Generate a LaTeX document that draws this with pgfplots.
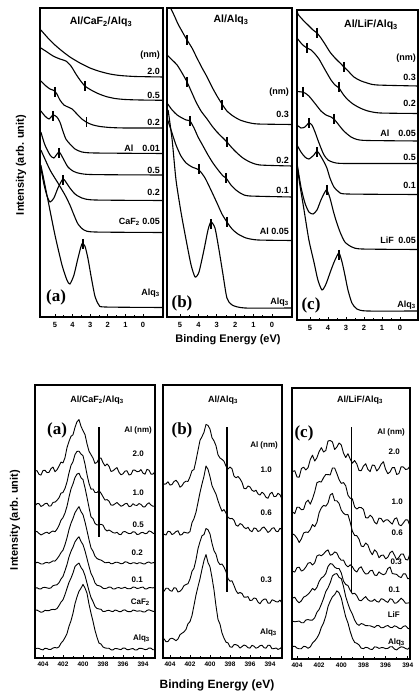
\documentclass[border=0pt]{standalone}
\usepackage{pgfplots}
\pgfplotsset{compat=1.18}
\usepackage{pgfplotstable}
\usepackage{fontspec}
\setmainfont{Liberation Sans}
\newfontfamily\tms{Liberation Serif}

\pgfplotstableread{
x A1 A2 A3 A4 A5 A6 A7
404.8 186.9 152.0 126.2 94.4 69.6 47.9 9.0
404.6 187.4 154.4 126.6 95.8 70.3 47.9 9.8
404.4 183.6 154.4 124.6 95.1 69.1 46.8 9.5
404.2 182.9 151.5 123.1 94.0 69.1 45.7 8.6
404.0 187.5 152.6 124.0 94.0 70.5 46.2 8.1
403.8 187.7 154.3 125.2 95.2 70.6 47.7 9.8
403.6 185.4 154.8 125.8 95.6 70.1 47.3 9.4
403.4 185.6 151.9 124.4 94.9 69.6 47.3 8.5
403.2 189.4 152.1 126.0 95.9 70.1 48.3 8.7
403.0 190.9 155.6 127.0 97.1 72.3 48.6 10.0
402.8 186.3 155.9 126.2 96.9 72.9 48.4 10.5
402.6 188.2 157.7 128.8 99.1 73.2 49.4 10.0
402.4 191.8 160.2 132.5 101.9 75.3 52.4 11.1
402.2 195.9 164.9 137.8 105.4 79.0 55.9 14.8
402.0 195.1 165.5 140.4 107.9 81.6 58.2 17.0
401.8 200.3 169.6 145.0 113.3 87.3 63.5 20.4
401.6 210.3 176.0 151.7 120.2 93.4 69.6 24.4
401.4 216.6 185.1 160.9 128.4 101.1 75.6 31.7
401.2 221.7 192.6 169.1 134.8 106.7 79.9 37.2
401.0 223.2 196.3 174.1 139.6 110.9 85.0 44.8
400.8 230.6 203.5 180.5 145.3 116.2 91.4 54.3
400.6 236.3 206.6 183.9 148.6 119.1 93.5 61.1
400.4 238.4 206.8 184.8 151.4 121.2 94.9 66.8
400.2 231.7 204.0 180.3 146.4 116.5 90.5 69.8
400.0 227.3 202.3 178.4 143.3 113.3 87.8 73.6
399.8 223.5 193.9 170.3 136.0 107.1 82.4 69.9
399.6 214.3 183.5 160.6 127.4 99.5 74.9 64.8
399.4 206.8 174.6 150.6 118.4 91.7 67.2 53.9
399.2 203.4 168.9 141.1 110.1 84.5 60.5 44.8
399.0 199.9 169.0 139.4 106.8 80.7 56.5 36.7
398.8 194.5 165.5 134.6 101.8 75.1 51.6 27.7
398.6 195.6 165.5 133.0 99.5 72.7 49.6 20.7
398.4 199.7 167.4 133.2 98.5 72.3 49.0 14.9
398.2 200.0 164.8 133.7 97.9 71.5 48.7 14.0
398.0 195.4 161.3 132.9 96.7 69.7 46.5 11.0
397.8 192.1 157.9 128.8 95.2 69.4 46.6 10.1
397.6 194.1 158.4 127.0 95.4 69.9 47.4 9.7
397.4 191.8 156.9 128.0 95.8 71.0 47.7 9.8
397.2 186.5 153.0 126.8 94.2 70.7 46.8 8.2
397.0 187.2 152.8 125.4 94.4 69.0 46.4 8.1
396.8 189.0 154.2 124.9 95.6 69.1 47.9 9.5
396.6 190.4 155.5 125.7 95.8 70.2 47.5 9.4
396.4 185.7 153.6 123.7 95.2 70.4 46.4 8.8
396.2 183.2 151.7 123.4 94.2 69.6 46.3 8.4
396.0 184.2 152.6 126.1 94.6 70.0 47.8 9.9
395.8 186.9 154.2 126.5 96.2 70.8 48.1 9.8
395.6 187.2 154.6 125.3 95.9 69.5 46.7 8.4
395.4 183.0 151.4 124.4 94.7 69.2 46.3 8.4
395.2 183.6 151.8 124.6 94.3 69.5 46.3 9.1
395.0 187.8 154.3 126.3 95.3 70.9 47.9 9.5
394.8 187.8 152.8 125.9 95.1 70.7 47.5 8.0
394.6 186.3 152.6 123.5 94.2 69.5 46.7 8.1
394.4 186.6 154.4 123.8 95.3 69.8 47.1 9.6
394.2 188.4 153.6 125.3 95.1 70.6 47.0 9.7
394.0 184.8 151.2 125.6 94.2 70.9 46.1 9.2
393.8 183.8 151.1 124.3 94.1 69.1 46.0 8.4
393.6 188.7 153.8 124.7 95.5 69.2 47.6 8.6
393.4 187.8 155.2 127.1 96.0 70.4 48.2 10.0
393.2 183.9 153.0 126.4 94.8 70.3 47.4 9.8
393.0 183.9 151.7 124.8 95.2 70.1 46.7 8.2
392.8 186.3 152.0 124.1 95.9 70.6 46.5 8.3
}\tabBA

\pgfplotstableread{
x B1 B2 B3 B4
404.8 177.4 125.8 66.8 18.2
404.6 173.7 123.7 66.8 19.2
404.4 174.1 123.0 69.8 16.2
404.2 176.2 126.7 69.7 16.5
404.0 172.9 126.3 67.5 19.2
403.8 173.5 123.4 66.7 19.8
403.6 176.5 124.5 70.3 18.8
403.4 177.7 126.4 69.9 17.3
403.2 175.3 127.3 66.0 19.0
403.0 170.8 122.9 66.7 23.3
402.8 172.3 123.5 68.8 24.8
402.6 175.5 125.9 72.4 26.1
402.4 176.8 125.3 73.5 28.6
402.2 176.6 124.9 74.3 34.3
402.0 181.2 126.5 79.0 36.4
401.8 187.3 135.3 86.7 42.5
401.6 188.5 139.5 89.8 52.6
401.4 197.5 145.8 98.3 63.0
401.2 207.7 155.5 109.3 71.4
401.0 217.6 165.5 116.3 79.3
400.8 221.4 174.0 122.3 88.8
400.6 225.7 181.8 123.4 97.5
400.4 233.6 192.0 129.5 103.4
400.2 232.5 188.7 128.3 95.5
400.0 228.9 181.3 124.0 91.2
399.8 220.3 172.4 114.7 80.4
399.6 217.1 168.0 107.3 68.0
399.4 212.3 163.9 103.8 52.1
399.2 203.2 157.3 96.3 38.6
399.0 200.0 151.6 93.4 33.8
398.8 198.6 146.8 94.0 25.0
398.6 196.7 148.4 90.9 19.8
398.4 191.8 145.0 86.3 15.8
398.2 189.0 140.7 79.3 15.1
398.0 191.0 139.3 76.8 11.2
397.8 189.2 139.6 77.2 10.7
397.6 181.9 137.8 72.5 13.4
397.4 180.2 132.8 67.3 13.3
397.2 181.5 131.8 64.5 12.4
397.0 179.2 134.4 65.5 9.9
396.8 175.7 133.5 64.5 11.4
396.6 169.5 130.7 60.9 13.0
396.4 169.3 129.3 60.8 12.2
396.2 172.0 130.7 61.4 10.3
396.0 171.1 127.5 57.5 9.9
395.8 167.7 126.3 57.8 12.7
395.6 166.6 130.0 60.0 11.8
395.4 167.8 129.5 59.5 9.8
395.2 164.1 126.5 56.0 10.6
395.0 162.9 127.3 54.2 12.3
394.8 165.8 130.0 57.3 12.8
394.6 164.1 131.0 58.8 10.3
394.4 160.6 128.5 58.8 9.8
394.2 159.7 125.5 54.8 12.8
394.0 164.2 127.0 54.8 12.6
393.8 165.8 129.7 58.2 9.2
393.6 161.4 130.3 57.5 9.4
393.4 161.6 126.8 56.3 10.0
393.2 164.7 126.3 56.0 8.6
393.0 163.2 129.8 57.9 9.4
392.8 159.2 128.3 54.8 11.0
}\tabBB

\pgfplotstableread{
x C1 C2 C3 C4 C5 C6 C7
404.4 187.5 147.0 125.2 87.8 61.0 37.9 12.5
404.2 188.3 145.4 123.8 86.9 61.7 37.2 12.8
404.0 182.0 151.8 120.8 91.4 58.3 37.6 10.9
403.8 181.8 151.7 116.5 91.8 56.1 37.9 10.2
403.6 190.5 149.2 120.2 87.9 58.3 36.3 10.3
403.4 191.8 149.7 126.0 89.1 61.9 36.2 12.7
403.2 189.0 156.6 127.0 92.0 63.0 39.0 12.3
403.0 191.3 158.9 126.6 95.8 64.7 39.4 10.7
402.8 199.5 154.8 129.4 96.5 67.3 38.8 12.1
402.6 203.8 160.2 134.5 94.0 70.6 38.9 15.9
402.4 198.0 167.2 132.4 96.3 68.8 41.3 18.1
402.2 201.3 176.3 136.6 103.0 71.7 46.7 21.0
402.0 207.5 177.4 146.4 104.2 77.5 49.6 25.1
401.8 211.3 177.0 151.2 103.2 81.0 54.8 31.7
401.6 207.0 181.4 153.6 105.1 82.5 60.6 36.1
401.4 208.5 184.5 152.8 107.7 85.5 67.4 42.9
401.2 218.0 184.4 156.0 109.1 92.5 71.2 52.4
401.0 218.5 184.1 164.0 103.8 95.4 76.3 57.9
400.8 217.0 191.0 165.6 104.5 94.8 83.1 62.2
400.6 209.5 191.0 158.3 107.1 91.9 84.9 64.3
400.4 212.0 185.4 158.2 106.0 90.5 85.4 68.2
400.2 216.0 179.3 155.5 101.2 90.5 81.6 66.1
400.0 214.0 175.6 148.8 98.7 86.0 80.4 60.9
399.8 205.8 176.4 145.7 98.9 77.8 72.4 51.1
399.6 201.5 173.2 144.2 94.2 74.5 62.3 42.1
399.4 205.3 163.8 144.5 92.1 73.4 55.3 36.1
399.2 200.0 160.8 136.8 94.2 68.8 49.2 27.6
399.0 195.8 160.1 127.8 92.3 65.1 44.9 20.9
398.8 198.5 152.2 123.6 88.6 65.8 39.0 16.6
398.6 195.0 149.9 123.3 87.0 63.3 35.1 15.7
398.4 188.5 151.6 119.8 90.8 58.8 33.6 14.1
398.2 188.3 151.4 112.9 92.2 58.2 35.5 10.8
398.0 193.0 149.6 112.4 87.6 60.5 34.7 10.4
397.8 195.3 141.3 116.0 85.0 62.4 33.3 11.7
397.6 189.5 141.0 114.0 85.3 59.3 33.3 11.2
397.4 187.3 143.8 107.9 88.2 57.8 33.2 9.8
397.2 194.0 141.8 104.2 88.7 57.8 32.4 9.5
397.0 193.5 136.8 109.2 84.0 59.7 31.5 12.1
396.8 188.0 135.0 107.0 83.4 57.5 33.5 11.9
396.6 190.5 140.9 101.3 87.1 56.9 33.3 10.6
396.4 195.0 140.4 103.6 85.3 60.3 31.2 11.3
396.2 197.3 136.9 103.9 84.2 59.6 31.4 11.3
396.0 189.5 139.0 100.2 85.4 57.8 32.8 10.4
395.8 185.3 139.2 101.7 90.5 56.6 33.5 10.6
395.6 187.0 136.9 106.3 92.0 60.3 31.7 12.2
395.4 191.3 134.9 107.9 85.5 59.6 31.4 12.3
395.2 191.5 140.0 103.8 85.0 55.8 33.2 9.9
395.0 184.5 141.2 99.2 84.6 56.1 32.4 9.1
394.8 185.5 134.4 101.8 82.4 58.3 30.7 11.0
394.6 192.3 133.3 105.0 81.4 60.8 30.3 12.2
394.4 192.0 136.1 104.9 85.2 58.8 32.6 11.8
394.2 189.5 139.2 99.6 85.1 55.7 33.2 10.5
394.0 190.0 139.0 99.0 80.2 56.0 30.8 9.7
393.8 193.0 132.9 105.3 80.7 56.2 29.7 12.2
393.6 187.0 132.4 103.6 82.3 54.8 30.0 11.6
}\tabBC

\pgfplotsset{
  panel/.style={scale only axis, anchor=south west, x dir=reverse, ytick=\empty,
    axis line style={line width=1.2pt}, tick align=inside, xtick pos=left,
    major tick length=3pt, minor tick length=2pt,
    every tick/.style={line width=0.8pt, black},
    clip=true},
  toppanel/.style={panel, ymin=0, xtick={0,1,2,3,4,5}, xticklabels={0,1,2,3,4,5}, minor x tick num=1,
    xticklabel style={font=\bfseries\fontsize{7.5}{7.5}\selectfont, inner sep=1pt, yshift=-4pt}},
  botpanel/.style={panel, ymin=0, xtick={394,396,398,400,402,404}, xticklabels={394,396,398,400,402,404}, minor x tick num=1,
    xticklabel style={font=\bfseries\fontsize{6.5}{6.5}\selectfont, inner sep=1pt, yshift=-3pt}},
  curve/.style={black, line width=1.1pt, smooth, tension=0.4, no marks},
  noisy/.style={black, line width=0.9pt, no marks, line join=round},
  tk/.style={black, only marks, mark=|, mark size=5pt, mark options={line width=1.3pt}},
}
\tikzset{
  lab/.style={font=\bfseries\fontsize{9}{9}\selectfont, inner sep=0pt},
  slab/.style={font=\bfseries\fontsize{8}{8}\selectfont, inner sep=0pt},
  ttl/.style={font=\bfseries\fontsize{10.5}{10.5}\selectfont, inner sep=0pt},
  sttl/.style={font=\bfseries\fontsize{9}{9}\selectfont, inner sep=0pt},
  pl/.style={font=\tms\bfseries\fontsize{17}{17}\selectfont, inner sep=0pt},
}

\begin{document}
\begin{tikzpicture}
\useasboundingbox (0pt,0pt) rectangle (419pt,698pt);

% ---------------- top (a)
\begin{axis}[toppanel, at={(40pt,381pt)}, width=123pt, height=309pt, xmin=-1.14, xmax=5.85, ymax=309]
\addplot[curve] coordinates {(5.80,287) (5.40,279) (5.00,272) (4.60,266) (4.15,260) (3.58,254) (3.01,249) (2.44,245.5) (1.88,243) (1.31,241.5) (0.45,240.5) (-1.14,240)};
\addplot[curve] coordinates {(5.80,269) (5.45,265) (5.11,261) (4.72,258) (4.38,256) (4.09,251) (3.81,243) (3.58,237) (3.30,231) (2.95,227) (2.56,223.5) (2.10,220.5) (1.59,218.5) (1.02,217.5) (0.17,217) (-1.14,216.7)};
\addplot[curve] coordinates {(5.80,236) (5.51,231) (5.28,228) (5.06,226.5) (4.89,223) (4.72,217) (4.49,212) (4.26,210) (4.03,208) (3.75,203) (3.47,198) (3.18,194.5) (2.84,192) (2.44,190.5) (1.88,189.5) (1.02,189) (-1.14,189)};
\addplot[curve] coordinates {(5.80,206) (5.57,201) (5.34,198) (5.11,202) (4.89,200) (4.72,195) (4.55,186) (4.38,178) (4.15,173) (3.86,168) (3.47,165) (2.73,164) (-1.14,163.5)};
\addplot[curve] coordinates {(5.80,185) (5.57,172) (5.28,162) (5.06,159) (4.77,165) (4.55,159) (4.26,150) (3.86,145) (3.01,142.5) (-1.14,142)};
\addplot[curve] coordinates {(5.80,149) (5.63,133) (5.45,121) (5.28,115) (5.06,119) (4.83,129) (4.55,138) (4.38,135) (4.15,129) (3.86,123) (3.47,119) (2.73,117) (-1.14,116.5)};
\addplot[curve] coordinates {(5.80,167) (5.28,147) (4.83,134) (4.43,122) (4.15,112) (3.92,102) (3.69,93) (3.35,87) (2.73,85) (-1.14,84.5)};
\addplot[curve] coordinates {(5.80,152) (5.40,117) (5.00,82) (4.60,52) (4.32,37) (4.15,33) (3.92,42) (3.69,59) (3.47,73) (3.30,71) (3.13,59) (2.95,41) (2.73,21) (2.50,12) (2.16,10) (-1.14,9.5)};
\addplot[tk] coordinates {(3.30,231) (5.00,225) (3.21,195) (5.11,201) (4.77,164) (4.55,137) (3.41,73)};
\end{axis}

% ---------------- top (b)
\begin{axis}[toppanel, at={(167pt,381pt)}, width=125pt, height=309pt, xmin=-1.09, xmax=5.71, ymax=309]
\addplot[curve] coordinates {(5.71,318) (5.54,310) (5.33,302) (5.11,293) (4.84,284) (4.62,277) (4.35,269) (4.08,259) (3.80,249) (3.53,240) (3.26,230) (2.99,221) (2.72,213) (2.45,206) (2.12,201) (1.74,197) (1.30,194.5) (0.76,193) (-1.09,192.5)};
\addplot[curve] coordinates {(5.71,262) (5.43,257) (5.16,252) (4.89,244) (4.62,235) (4.35,224) (4.13,215) (3.86,206) (3.53,198) (3.26,191) (2.99,185) (2.72,180) (2.45,175) (2.17,169) (1.90,164) (1.58,159) (1.20,155) (0.65,152) (-1.09,151)};
\addplot[curve] coordinates {(5.71,214) (5.43,207) (5.16,202) (4.89,199) (4.67,197) (4.46,196) (4.24,189) (4.02,180) (3.75,171) (3.48,162) (3.21,154) (2.93,147) (2.66,141) (2.50,139) (2.23,132) (1.96,127) (1.63,123) (1.20,121) (-1.09,120)};
\addplot[curve] coordinates {(5.71,199) (5.49,187) (5.22,172) (4.95,161) (4.67,154) (4.35,150) (3.97,147) (3.64,139) (3.32,127) (2.99,114) (2.72,103) (2.45,95) (2.17,88) (1.85,83) (1.41,79) (0.76,77) (-1.09,76.5)};
\addplot[curve] coordinates {(5.65,207) (5.43,177) (5.22,137) (4.95,105) (4.67,77) (4.40,52) (4.18,40) (3.97,45) (3.70,67) (3.48,87) (3.32,95) (3.10,89) (2.88,67) (2.66,42) (2.45,19) (2.17,12) (1.47,9) (-1.09,9)};
\addplot[tk] coordinates {(4.62,277) (2.72,212) (4.62,235) (2.45,175) (4.46,196) (2.50,139) (3.97,148) (2.45,95) (3.32,93)};
\end{axis}

% ---------------- top (c)
\begin{axis}[toppanel, at={(297pt,378pt)}, width=121pt, height=310pt, xmin=-1.0, xmax=5.72, ymax=310]
\addplot[curve] coordinates {(5.72,312) (5.67,306) (5.39,300) (5.11,295) (4.83,290) (4.61,287) (4.39,282) (4.17,276) (3.89,268) (3.61,262) (3.33,257) (3.11,253) (2.83,248) (2.56,243) (2.22,239.5) (1.83,237) (1.28,235) (-1.0,234)};
\addplot[curve] coordinates {(5.72,282) (5.50,277) (5.33,274) (5.17,272) (4.94,270) (4.72,266) (4.50,261) (4.28,254) (4.06,247) (3.83,240) (3.61,235) (3.39,232) (3.17,226) (2.94,221) (2.61,216) (2.22,212) (1.78,209) (1.11,207) (-1.0,206.5)};
\addplot[curve] coordinates {(5.72,228.5) (5.44,228) (5.28,227) (5.06,224) (4.83,219) (4.61,214) (4.39,209) (4.11,205) (3.83,203) (3.67,201) (3.44,196) (3.22,191) (3.00,187) (2.72,183) (2.39,180.5) (1.83,179.5) (-1.0,179)};
\addplot[curve] coordinates {(5.72,195) (5.50,192) (5.28,193) (5.06,197) (4.89,195) (4.72,188) (4.56,180) (4.39,172) (4.22,165) (4.00,160) (3.67,157.5) (3.06,156.5) (-1.0,156.5)};
\addplot[curve] coordinates {(5.72,175) (5.50,168) (5.28,163) (5.06,161) (4.78,165) (4.61,169) (4.44,165) (4.22,158) (4.06,152) (3.89,142) (3.67,133) (3.39,128) (2.94,126) (-1.0,125.5)};
\addplot[curve] coordinates {(5.72,157) (5.50,133) (5.28,117) (5.06,108) (4.83,106) (4.61,110) (4.39,120) (4.17,128) (4.06,130) (3.89,122) (3.72,110) (3.56,100) (3.33,88) (3.06,78) (2.67,73) (2.11,71) (-1.0,70.5)};
\addplot[curve] coordinates {(5.72,155) (5.56,135) (5.33,110) (5.06,80) (4.78,58) (4.56,40) (4.33,30) (4.11,36) (3.83,50) (3.61,60) (3.39,67) (3.22,58) (3.06,45) (2.89,30) (2.67,17) (2.39,11) (1.83,9) (-1.0,9)};
\addplot[tk] coordinates {(4.61,287) (3.11,253) (5.17,272) (3.39,233) (5.39,228) (3.67,201) (5.06,197) (4.61,168) (4.06,130) (3.39,65)};
\end{axis}

% ---------------- bottom (a)
\begin{axis}[botpanel, at={(35pt,40pt)}, width=120pt, height=273pt, xmin=392.8, xmax=404.8, ymax=273]
\addplot[noisy] table[x=x, y=A1] {\tabBA};
\addplot[noisy] table[x=x, y=A2] {\tabBA};
\addplot[noisy] table[x=x, y=A3] {\tabBA};
\addplot[noisy] table[x=x, y=A4] {\tabBA};
\addplot[noisy] table[x=x, y=A5] {\tabBA};
\addplot[noisy] table[x=x, y=A6] {\tabBA};
\addplot[noisy] table[x=x, y=A7] {\tabBA};
\addplot[black, line width=1.1pt] coordinates {(398.4,121) (398.4,231)};
\end{axis}

% ---------------- bottom (b)
\begin{axis}[botpanel, at={(163pt,40pt)}, width=119pt, height=273pt, xmin=392.8, xmax=404.7, ymax=273]
\addplot[noisy] table[x=x, y=B1] {\tabBB};
\addplot[noisy] table[x=x, y=B2] {\tabBB};
\addplot[noisy] table[x=x, y=B3] {\tabBB};
\addplot[noisy] table[x=x, y=B4] {\tabBB};
\addplot[black, line width=1.1pt] coordinates {(398.3,66) (398.3,231)};
\end{axis}

% ---------------- bottom (c)
\begin{axis}[botpanel, at={(292pt,39pt)}, width=118pt, height=271pt, xmin=393.8, xmax=404.45, ymax=271]
\addplot[noisy] table[x=x, y=C1] {\tabBC};
\addplot[noisy] table[x=x, y=C2] {\tabBC};
\addplot[noisy] table[x=x, y=C3] {\tabBC};
\addplot[noisy] table[x=x, y=C4] {\tabBC};
\addplot[noisy] table[x=x, y=C5] {\tabBC};
\addplot[noisy] table[x=x, y=C6] {\tabBC};
\addplot[noisy] table[x=x, y=C7] {\tabBC};
\addplot[black, line width=1.1pt] coordinates {(399.07,67) (399.07,232)};
\end{axis}

% ---------------- texts top
\node[ttl] at (101pt,676pt) {Al/CaF\textsubscript{2}/Alq\textsubscript{3}};
\node[lab, anchor=east] at (160pt,643pt) {(nm)};
\node[lab, anchor=east] at (160pt,627pt) {2.0};
\node[lab, anchor=east] at (160pt,603pt) {0.5};
\node[lab, anchor=east] at (160pt,576pt) {0.2};
\node[lab, anchor=east] at (160pt,550pt) {Al\quad 0.01};
\node[lab, anchor=east] at (160pt,528pt) {0.5};
\node[lab, anchor=east] at (160pt,506pt) {0.2};
\node[lab, anchor=east] at (160pt,476pt) {CaF\textsubscript{2} 0.05};
\node[lab, anchor=east] at (160pt,405pt) {Alq\textsubscript{3}};
\node[pl] at (56pt,401pt) {(a)};

\node[ttl] at (231pt,678pt) {Al/Alq\textsubscript{3}};
\node[lab, anchor=east] at (289pt,606pt) {(nm)};
\node[lab, anchor=east] at (289pt,584pt) {0.3};
\node[lab, anchor=east] at (289pt,538pt) {0.2};
\node[lab, anchor=east] at (289pt,508pt) {0.1};
\node[lab, anchor=east] at (289pt,467pt) {Al 0.05};
\node[lab, anchor=east] at (289pt,396pt) {Alq\textsubscript{3}};
\node[pl] at (182pt,395pt) {(b)};

\node[ttl] at (371pt,673pt) {Al/LiF/Alq\textsubscript{3}};
\node[lab, anchor=east] at (416pt,640pt) {(nm)};
\node[lab, anchor=east] at (416pt,621pt) {0.3};
\node[lab, anchor=east] at (416pt,595pt) {0.2};
\node[lab, anchor=east] at (416pt,565pt) {Al\quad 0.05};
\node[lab, anchor=east] at (416pt,541pt) {0.5};
\node[lab, anchor=east] at (416pt,513pt) {0.1};
\node[lab, anchor=east] at (416pt,458pt) {LiF\enspace 0.05};
\node[lab, anchor=east] at (416pt,393pt) {Alq\textsubscript{3}};
\node[pl] at (311pt,393pt) {(c)};

\node[font=\bfseries\fontsize{11}{11}\selectfont] at (228pt,358pt) {Binding Energy (eV)};
\node[font=\bfseries\fontsize{11}{11}\selectfont, rotate=90] at (21pt,533pt) {Intensity (arb. unit)};

% ---------------- texts bottom
\node[sttl] at (97pt,298pt) {Al/CaF\textsubscript{2}/Alq\textsubscript{3}};
\node[pl] at (57pt,268pt) {(a)};
\node[slab, anchor=east] at (152pt,268pt) {Al (nm)};
\node[slab, anchor=east] at (144pt,244pt) {2.0};
\node[slab, anchor=east] at (144pt,205pt) {1.0};
\node[slab, anchor=east] at (144pt,173pt) {0.5};
\node[slab, anchor=east] at (143pt,145pt) {0.2};
\node[slab, anchor=east] at (143pt,118pt) {0.1};
\node[slab, anchor=east] at (150pt,96pt) {CaF\textsubscript{2}};
\node[slab, anchor=east] at (150pt,60pt) {Alq\textsubscript{3}};

\node[sttl] at (223pt,298pt) {Al/Alq\textsubscript{3}};
\node[pl] at (182pt,268pt) {(b)};
\node[slab, anchor=east] at (278pt,253pt) {Al (nm)};
\node[slab, anchor=east] at (272pt,228pt) {1.0};
\node[slab, anchor=east] at (272pt,185pt) {0.6};
\node[slab, anchor=east] at (272pt,118pt) {0.3};
\node[slab, anchor=east] at (277pt,66pt) {Alq\textsubscript{3}};

\node[sttl] at (360pt,298pt) {Al/LiF/Alq\textsubscript{3}};
\node[pl] at (304pt,265pt) {(c)};
\node[slab, anchor=east] at (405pt,266pt) {Al (nm)};
\node[slab, anchor=east] at (400pt,246pt) {2.0};
\node[slab, anchor=east] at (403pt,196pt) {1.0};
\node[slab, anchor=east] at (403pt,165pt) {0.6};
\node[slab, anchor=east] at (402pt,136pt) {0.3};
\node[slab, anchor=east] at (400pt,108pt) {0.1};
\node[slab, anchor=east] at (400pt,83pt) {LiF};
\node[slab, anchor=east] at (405pt,56pt) {Alq\textsubscript{3}};

\node[font=\bfseries\fontsize{12}{12}\selectfont] at (217pt,13pt) {Binding Energy (eV)};
\node[font=\bfseries\fontsize{11}{11}\selectfont, rotate=90] at (15pt,178pt) {Intensity (arb. unit)};
\end{tikzpicture}
\end{document}
